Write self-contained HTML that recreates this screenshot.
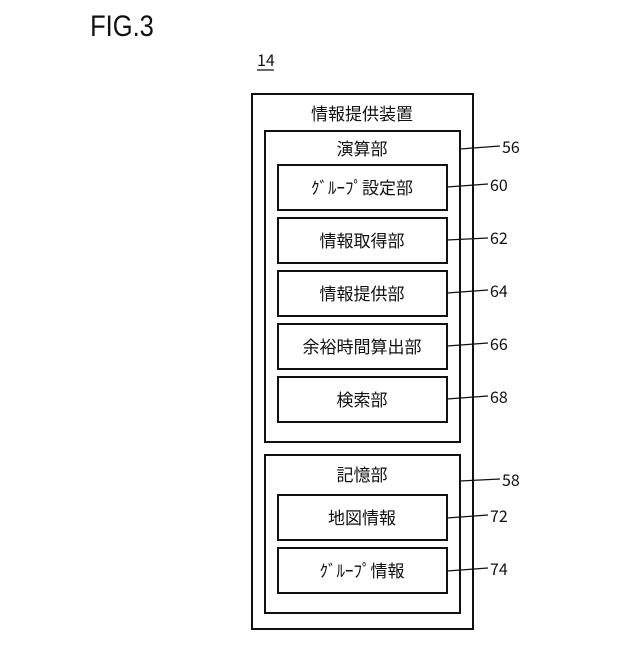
<!DOCTYPE html>
<html><head><meta charset="utf-8"><style>
body{margin:0;background:#fff}
svg text{font-family:"Noto Sans CJK JP","Liberation Sans",sans-serif;fill:#111}
</style></head><body>
<svg width="640" height="640" viewBox="0 0 640 640" xmlns="http://www.w3.org/2000/svg">
<g fill="none" stroke="#111" stroke-width="2">
<rect x="252" y="94" width="221" height="535"/>
<rect x="265" y="131" width="195" height="311"/>
<rect x="278" y="165" width="169" height="45"/>
<rect x="278" y="218" width="169" height="45"/>
<rect x="278" y="271" width="169" height="45"/>
<rect x="278" y="324" width="169" height="45"/>
<rect x="278" y="377" width="169" height="45"/>
<rect x="265" y="455" width="195" height="158"/>
<rect x="278" y="495" width="169" height="45"/>
<rect x="278" y="548" width="169" height="45"/>
</g>
<g stroke="#111" stroke-width="1.3">
<line x1="460" y1="149" x2="500" y2="146"/>
<line x1="447" y1="187" x2="488" y2="184"/>
<line x1="447" y1="240" x2="488" y2="238"/>
<line x1="447" y1="293" x2="488" y2="290"/>
<line x1="447" y1="346" x2="488" y2="343"/>
<line x1="447" y1="399" x2="488" y2="396"/>
<line x1="460" y1="481" x2="500" y2="479"/>
<line x1="447" y1="518" x2="488" y2="515"/>
<line x1="447" y1="571" x2="488" y2="568"/>
<line x1="257" y1="70" x2="274" y2="70"/>
</g>
<text x="90" y="36" font-size="30" font-family="Liberation Sans" transform="scale(0.85,1)" style="font-family:'Liberation Sans Narrow','Liberation Sans',sans-serif" dx="16">FIG.3</text>
<text x="257" y="66" font-size="16">14</text>
<g font-size="17" text-anchor="middle">
<text x="362" y="120">情報提供装置</text>
<text x="362" y="155">演算部</text>
<text x="362" y="194">ｸﾞﾙｰﾌﾟ設定部</text>
<text x="362" y="247">情報取得部</text>
<text x="362" y="300">情報提供部</text>
<text x="362" y="353">余裕時間算出部</text>
<text x="362" y="406">検索部</text>
<text x="362" y="481">記憶部</text>
<text x="362" y="524">地図情報</text>
<text x="362" y="577">ｸﾞﾙｰﾌﾟ情報</text>
</g>
<g font-size="16">
<text x="502" y="153">56</text>
<text x="490" y="191">60</text>
<text x="490" y="244">62</text>
<text x="490" y="297">64</text>
<text x="490" y="350">66</text>
<text x="490" y="403">68</text>
<text x="502" y="486">58</text>
<text x="490" y="522">72</text>
<text x="490" y="575">74</text>
</g>
</svg>
</body></html>
